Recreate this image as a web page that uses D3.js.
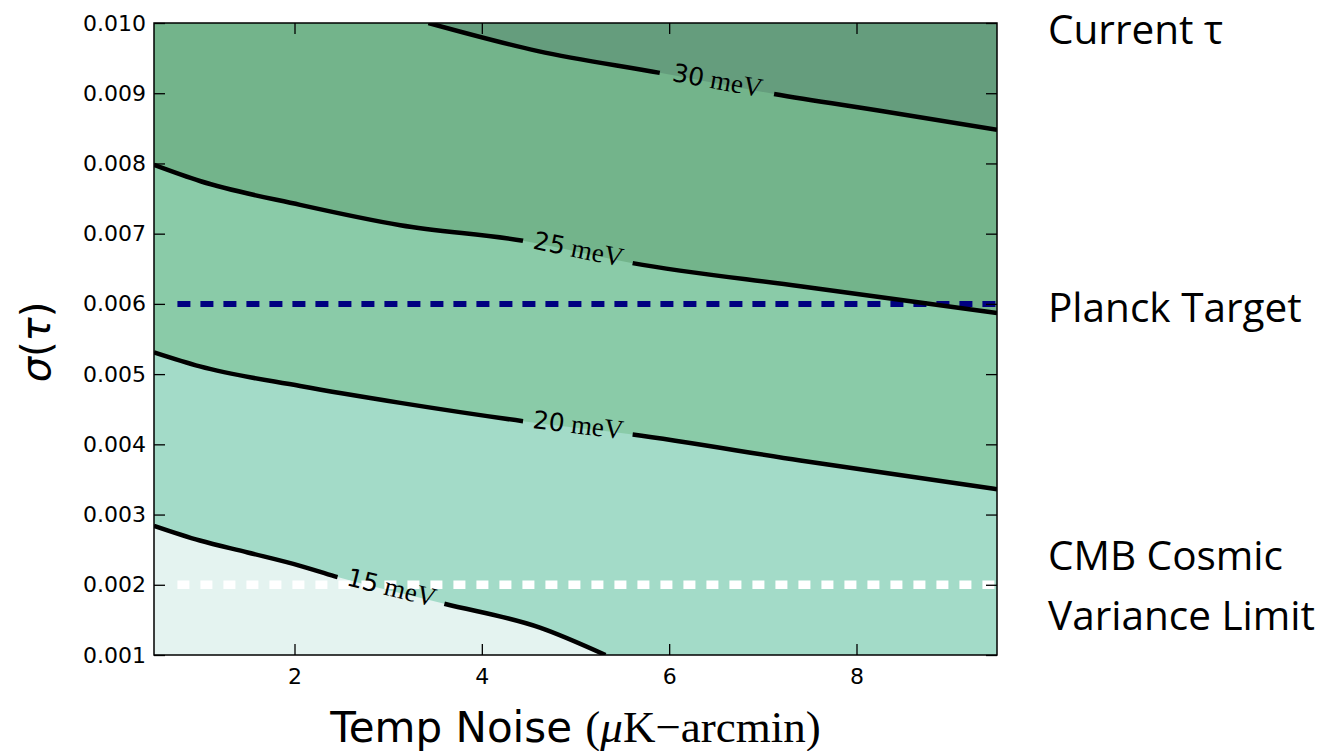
<!DOCTYPE html>
<html><head><meta charset="utf-8">
<script src="https://cdn.jsdelivr.net/npm/d3@7"></script>
<style>body{margin:0;background:#fff;} svg{display:block}</style>
</head><body><svg id="c" width="1334" height="751"></svg>
<script>
// ---------- data ----------
const xDomain = [0.5, 9.5];
const yDomain = [0.001, 0.010];
const xTicks = [2, 4, 6, 8];
const yTicks = [0.001, 0.002, 0.003, 0.004, 0.005, 0.006, 0.007, 0.008, 0.009, 0.010];
const levelNames = ["15", "20", "25", "30"];
const contour15 = [[0.5,0.00284],[0.99,0.00263],[1.5,0.00246],[2.06,0.00227],[2.43,0.00212],[3.6,0.00173],[4.62,0.00139],[5.32,0.0010]];
const contour20 = [[0.5,0.00531],[0.99,0.00511],[2.06,0.00483],[3.13,0.00459],[4.44,0.00433],[5.61,0.00414],[7.4,0.00377],[9.5,0.00336]];
const contour25 = [[0.5,0.00798],[0.99,0.00775],[2.06,0.00741],[3.13,0.00712],[4.44,0.00690],[5.61,0.00658],[7.4,0.00625],[9.5,0.00587]];
const contour30 = [[3.43,0.0100],[4.6,0.00960],[5.9,0.00929],[7.12,0.00899],[8.3,0.00874],[9.5,0.00848]];
const labelGaps = [[2.46,3.6],[4.44,5.61],[4.44,5.61],[5.9,7.12]];
const bandColors = ["#e4f3f0", "#a3dbc8", "#8acba8", "#73b48b", "#659d7d"];
const refLines = [{y:0.006, x0:0.75, x1:9.5, color:"#000080"}, {y:0.002, x0:0.75, x1:9.5, color:"#ffffff"}];
const sideNotes = [["Current τ"], ["Planck Target"], ["CMB Cosmic", "Variance Limit"]];

// ---------- layout ----------
const svg = d3.select("#c");
const M = {l:154, r:997, t:23, b:655};
const x = d3.scaleLinear().domain(xDomain).range([M.l, M.r]);
const y = d3.scaleLinear().domain(yDomain).range([M.b, M.t]);
const contours = [contour15, contour20, contour25, contour30];

const defs = svg.append("defs");
defs.append("clipPath").attr("id","plot").append("rect")
  .attr("x",M.l).attr("y",M.t).attr("width",M.r-M.l).attr("height",M.b-M.t);

const g = svg.append("g").attr("clip-path","url(#plot)");
g.append("rect").attr("x",M.l).attr("y",M.t).attr("width",M.r-M.l).attr("height",M.b-M.t)
  .attr("fill",bandColors[0]);

const line = d3.line().x(d=>x(d[0])).y(d=>y(d[1])).curve(d3.curveMonotoneX);

contours.forEach((c,i)=>{
  const p = line(c) + "L" + x(xDomain[1]) + "," + y(yDomain[0]) +
    "L" + x(xDomain[1]) + "," + y(yDomain[1]) + "L" + x(xDomain[0]) + "," + y(yDomain[1]) +
    "L" + x(c[0][0]) + "," + y(yDomain[1]) + "Z";
  g.append("path").attr("d",p).attr("fill",bandColors[i+1]);
});

// reference dashed lines
refLines.forEach(r=>{
  const white = r.color==="#ffffff";
  g.append("line").attr("x1",x(r.x0)).attr("x2",x(r.x1)).attr("y1",y(r.y)).attr("y2",y(r.y))
    .attr("stroke",r.color).attr("stroke-width", white?8.5:6)
    .attr("stroke-dasharray", white?"12,11":"13,10");
});

// contour lines with label gaps
contours.forEach((c,i)=>{
  const gap = labelGaps[i];
  const interp = xv => {
    for (let k=0;k<c.length-1;k++){ if (xv>=c[k][0] && xv<=c[k+1][0]) { const t=(xv-c[k][0])/(c[k+1][0]-c[k][0]); return c[k][1]+t*(c[k+1][1]-c[k][1]); } }
    return c[c.length-1][1];
  };
  const p0 = [x(gap[0]), y(interp(gap[0]))], p1 = [x(gap[1]), y(interp(gap[1]))];
  const cx = (p0[0]+p1[0])/2, cy = (p0[1]+p1[1])/2;
  const ang = Math.atan2(p1[1]-p0[1], p1[0]-p0[0]) * 180/Math.PI;
  const len = Math.hypot(p1[0]-p0[0], p1[1]-p0[1]);
  const mask = defs.append("mask").attr("id","m"+i);
  mask.append("rect").attr("x",0).attr("y",0).attr("width",1334).attr("height",751).attr("fill","#fff");
  mask.append("rect").attr("x",-len/2).attr("y",-16).attr("width",len).attr("height",32).attr("fill","#000")
    .attr("transform",`translate(${cx},${cy}) rotate(${ang})`);
  g.append("path").attr("d",line(c)).attr("fill","none").attr("stroke","#000").attr("stroke-width",4.5)
    .attr("mask",`url(#m${i})`);
  const t = svg.append("text").attr("transform",`translate(${cx},${cy}) rotate(${ang})`)
    .attr("text-anchor","middle").attr("dy","0.36em").attr("fill","#000");
  t.append("tspan").attr("font-family","DejaVu Sans").attr("font-size",25).text(levelNames[i]);
  t.append("tspan").attr("font-family","Liberation Serif, DejaVu Serif").attr("font-size",27).text(" meV");
});

// frame
svg.append("rect").attr("x",M.l).attr("y",M.t).attr("width",M.r-M.l).attr("height",M.b-M.t)
  .attr("fill","none").attr("stroke","#000").attr("stroke-width",1.5);

const fmtY = d3.format(".3f");
const styleAxis = sel => { sel.select(".domain").remove();
  sel.selectAll(".tick line").attr("stroke","#000").attr("stroke-width",1.3);
  sel.selectAll("text").attr("font-family","DejaVu Sans").attr("font-size",22).attr("fill","#000"); };

svg.append("g").attr("transform",`translate(0,${M.b})`)
  .call(d3.axisBottom(x).tickValues(xTicks).tickSize(-11).tickPadding(13).tickFormat(d3.format("d"))).call(styleAxis);
svg.append("g").attr("transform",`translate(0,${M.t})`)
  .call(d3.axisTop(x).tickValues(xTicks).tickSize(-11).tickFormat("")).call(styleAxis);
svg.append("g").attr("transform",`translate(${M.l},0)`)
  .call(d3.axisLeft(y).tickValues(yTicks).tickSize(-11).tickPadding(8).tickFormat(fmtY)).call(styleAxis);
svg.append("g").attr("transform",`translate(${M.r},0)`)
  .call(d3.axisRight(y).tickValues(yTicks).tickSize(-11).tickFormat("")).call(styleAxis);

// axis labels
const xl = svg.append("text").attr("x",(M.l+M.r)/2).attr("y",742).attr("text-anchor","middle").attr("fill","#000");
xl.append("tspan").attr("font-family","DejaVu Sans").attr("font-size",42).text("Temp Noise ");
const serif = "Liberation Serif, DejaVu Serif";
xl.append("tspan").attr("font-family",serif).attr("font-size",45).text("(");
xl.append("tspan").attr("font-family",serif).attr("font-size",45).attr("font-style","italic").text("μ");
xl.append("tspan").attr("font-family",serif).attr("font-size",45).text("K−arcmin)");

const yl = svg.append("text").attr("transform",`translate(50,342) rotate(-90)`).attr("text-anchor","middle").attr("fill","#000")
  .attr("font-family","DejaVu Sans").attr("font-size",40);
yl.append("tspan").attr("font-style","italic").text("σ");
yl.append("tspan").text("(");
yl.append("tspan").attr("font-style","italic").text("τ");
yl.append("tspan").text(")");

// side notes
const noteBase = [44, 322, 570];
sideNotes.forEach((lines,i)=>{
  lines.forEach((s,j)=>{
    svg.append("text").attr("x",1048).attr("y",noteBase[i]+j*60).attr("font-family","Open Sans")
      .attr("font-size",40.5).attr("fill","#000").text(s);
  });
});
</script></body></html>
